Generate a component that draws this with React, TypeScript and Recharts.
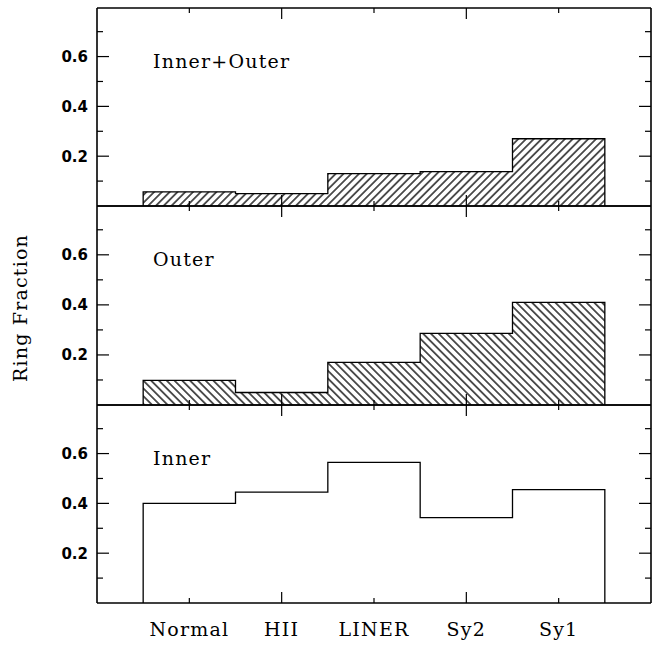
import { ComposedChart, Area, XAxis, YAxis } from 'recharts';

const categories = ['Normal', 'HII', 'LINER', 'Sy2', 'Sy1'];
const innerOuterFraction = [0.057, 0.05, 0.13, 0.138, 0.27];
const outerFraction = [0.098, 0.05, 0.17, 0.286, 0.41];
const innerFraction = [0.4, 0.445, 0.565, 0.343, 0.455];
const panelNames = ['Inner+Outer', 'Outer', 'Inner'];

const xTicks = [1, 2, 3, 4, 5];
const xMajor = [2, 4];
const yTicks = [0.1, 0.2, 0.3, 0.4, 0.5, 0.6, 0.7];
const yLabels = ['0.2', '0.4', '0.6'];

const W = 656;
const H = 646;
const PLOT_LEFT = 97;
const PLOT_RIGHT = 651;
const Y_MAX = 0.795;

// histogram outline: bin edges at i +/- 0.5, closed down to zero at both ends
function stepData(values: number[]) {
  const pts = [{ x: 0.5, y: 0 }];
  values.forEach((v, i) => pts.push({ x: i + 0.5, y: v }));
  pts.push({ x: values.length + 0.5, y: values[values.length - 1] });
  pts.push({ x: values.length + 0.5, y: 0 });
  return pts;
}

const isMajorY = (v: number) => yLabels.some((l) => Math.abs(parseFloat(l) - v) < 1e-6);
const axisStyle = { stroke: '#000', strokeWidth: 1.6 };

function xTick(props: any, dir: number, withLabel: boolean) {
  const { x, y, payload } = props;
  const len = xMajor.includes(payload.value) ? 11 : 5;
  const idx = xTicks.indexOf(payload.value);
  return (
    <g>
      <line x1={x} y1={y} x2={x} y2={y + dir * len} stroke="#000" strokeWidth={1.2} />
      {withLabel && idx >= 0 && (
        <text
          x={x}
          y={y + 33}
          textAnchor="middle"
          fontFamily="DejaVu Serif"
          fontSize={19}
          letterSpacing={1.2}
          fill="#000"
        >
          {categories[idx]}
        </text>
      )}
    </g>
  );
}

function yTick(props: any, dir: number, withLabel: boolean) {
  const { x, y, payload } = props;
  const major = isMajorY(payload.value);
  const len = major ? 12 : 6;
  return (
    <g>
      <line x1={x} y1={y} x2={x + dir * len} y2={y} stroke="#000" strokeWidth={1.2} />
      {withLabel && major && (
        <text
          x={x - 9}
          y={y}
          dy="0.36em"
          textAnchor="end"
          fontFamily="DejaVu Sans"
          fontWeight="bold"
          fontSize={15}
          fill="#000"
        >
          {payload.value.toFixed(1)}
        </text>
      )}
    </g>
  );
}

interface PanelProps {
  id: string;
  values: number[];
  top: number;
  bottom: number;
  hatch?: number;
  showCategories?: boolean;
}

function Panel({ id, values, top, bottom, hatch, showCategories }: PanelProps) {
  const patternId = `hatch-${id}`;
  // axes get 1px of room (a 0px axis is not drawn), so margins leave that out
  return (
    <div style={{ position: 'absolute', left: 0, top: 0 }}>
      <ComposedChart
        width={W}
        height={H}
        data={stepData(values)}
        margin={{ top: top - 1, right: W - PLOT_RIGHT - 1, bottom: H - bottom - 1, left: PLOT_LEFT - 1 }}
      >
        <defs>
          <pattern
            id={patternId}
            width={5.5}
            height={5.5}
            patternUnits="userSpaceOnUse"
            patternTransform={`rotate(${hatch ?? 45})`}
          >
            <line x1={2.75} y1={0} x2={2.75} y2={5.5} stroke="#000" strokeWidth={1.3} />
          </pattern>
        </defs>
        <XAxis
          xAxisId="b"
          type="number"
          dataKey="x"
          domain={[0, 6]}
          ticks={xTicks}
          orientation="bottom"
          height={1}
          tickSize={0}
          tickMargin={0}
          interval={0}
          axisLine={axisStyle}
          tickLine={false}
          tick={(p: any) => xTick(p, -1, !!showCategories)}
        />
        <XAxis
          xAxisId="t"
          type="number"
          dataKey="x"
          domain={[0, 6]}
          ticks={xTicks}
          orientation="top"
          height={1}
          tickSize={0}
          tickMargin={0}
          interval={0}
          axisLine={axisStyle}
          tickLine={false}
          tick={(p: any) => xTick(p, 1, false)}
        />
        <YAxis
          yAxisId="l"
          type="number"
          domain={[0, Y_MAX]}
          ticks={yTicks}
          width={1}
          tickSize={0}
          tickMargin={0}
          interval={0}
          allowDataOverflow
          axisLine={axisStyle}
          tickLine={false}
          tick={(p: any) => yTick(p, 1, true)}
        />
        <YAxis
          yAxisId="r"
          orientation="right"
          type="number"
          domain={[0, Y_MAX]}
          ticks={yTicks}
          width={1}
          tickSize={0}
          tickMargin={0}
          interval={0}
          allowDataOverflow
          axisLine={axisStyle}
          tickLine={false}
          tick={(p: any) => yTick(p, -1, false)}
        />
        <Area
          xAxisId="b"
          yAxisId="l"
          type="stepAfter"
          dataKey="y"
          stroke="#000"
          strokeWidth={1.3}
          fill={hatch === undefined ? 'none' : `url(#${patternId})`}
          fillOpacity={1}
          isAnimationActive={false}
        />
      </ComposedChart>
    </div>
  );
}

export default function App() {
  const tops = [8, 206, 405];
  const bottoms = [206, 405, 603];
  return (
    <div style={{ position: 'absolute', left: 0, top: 0, width: W, height: H, background: '#fff' }}>
      <Panel id="io" values={innerOuterFraction} top={tops[0]} bottom={bottoms[0]} hatch={45} />
      <Panel id="o" values={outerFraction} top={tops[1]} bottom={bottoms[1]} hatch={-45} />
      <Panel id="i" values={innerFraction} top={tops[2]} bottom={bottoms[2]} showCategories />
      <svg width={W} height={H} style={{ position: 'absolute', left: 0, top: 0, pointerEvents: 'none' }}>
        {panelNames.map((name, i) => (
          <text
            key={name}
            x={153}
            y={tops[i] + 60}
            fontFamily="DejaVu Serif"
            fontSize={19}
            letterSpacing={1.2}
            fill="#000"
          >
            {name}
          </text>
        ))}
        <text
          x={27}
          y={308}
          transform="rotate(-90 27 308)"
          textAnchor="middle"
          fontFamily="DejaVu Serif"
          fontSize={19}
          letterSpacing={1.2}
          fill="#000"
        >
          Ring Fraction
        </text>
      </svg>
    </div>
  );
}
